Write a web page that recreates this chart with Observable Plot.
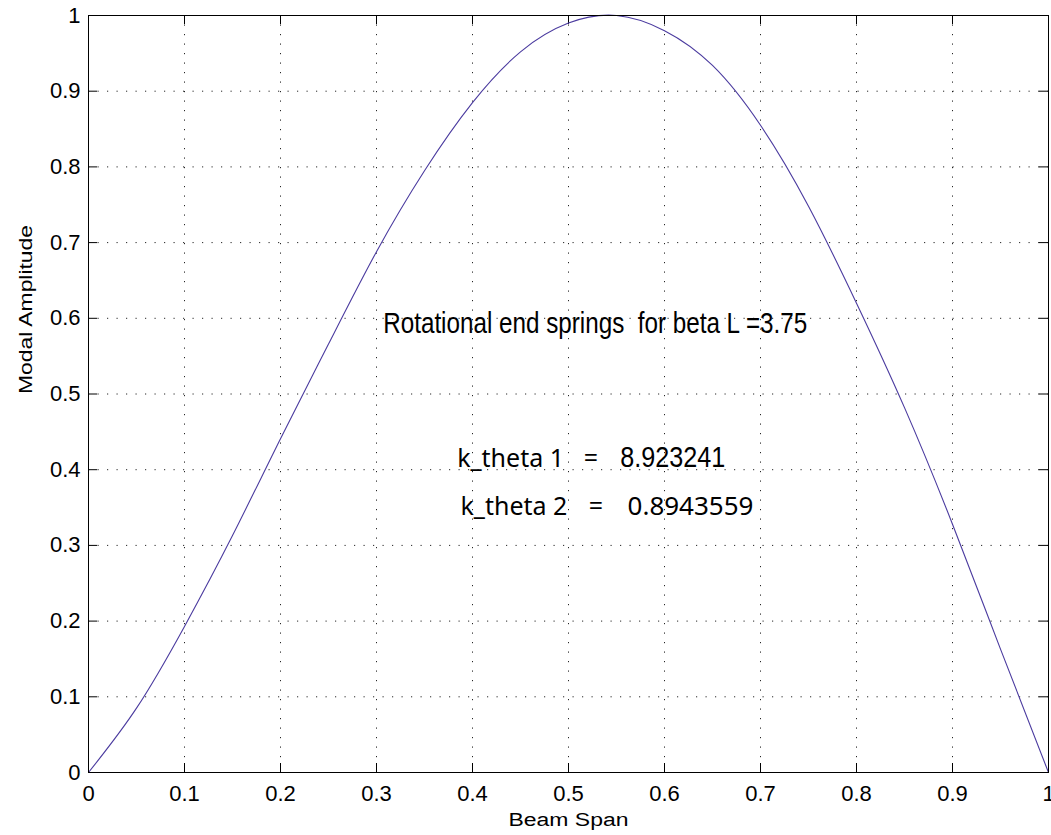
<!DOCTYPE html>
<html>
<head>
<meta charset="utf-8">
<script src="https://cdn.jsdelivr.net/npm/d3@7"></script>
<script src="https://cdn.jsdelivr.net/npm/@observablehq/plot@0.6"></script>
<style>
  html, body { margin: 0; padding: 0; background: #fff; }
  svg text { white-space: pre; }
</style>
</head>
<body>
<div id="chart"></div>
<script>
// Beam span positions and modal amplitude values
const beamSpan = [0, 0.05, 0.1, 0.15, 0.2, 0.25, 0.3, 0.35, 0.4, 0.45, 0.5, 0.55, 0.6, 0.65, 0.7, 0.75, 0.8, 0.85, 0.9, 0.95, 1];
const modalAmplitude = [0, 0.085, 0.193, 0.313, 0.441, 0.566, 0.688, 0.795, 0.885, 0.952, 0.99, 1.0, 0.98, 0.934, 0.855, 0.748, 0.62, 0.482, 0.328, 0.163, 0];

const xTicks = [0, 0.1, 0.2, 0.3, 0.4, 0.5, 0.6, 0.7, 0.8, 0.9, 1];
const yTicks = [0, 0.1, 0.2, 0.3, 0.4, 0.5, 0.6, 0.7, 0.8, 0.9, 1];

const xLabel = "Beam Span";
const yLabel = "Modal Amplitude";

// Annotations (text, anchor in data coordinates)
const titleText = ["Rotational end springs  for beta L =3.75"];
const titleX = [0.307];
const titleY = [0.58];

const kNames = ["k_theta 1", "k_theta 2"];
const kNameX = [0.384, 0.3875];
const kEqX = [0.516, 0.521];
const kValues = ["8.923241", "0.8943559"];
const kValueX = [0.554, 0.5615];
const kY = [0.403, 0.3395];

const curve = beamSpan.map((x, i) => ({x, y: modalAmplitude[i]}));
const title = titleText.map((t, i) => ({t, x: titleX[i], y: titleY[i]}));
const kRows = kNames.map((n, i) => ({n, v: kValues[i], nx: kNameX[i], ex: kEqX[i], vx: kValueX[i], y: kY[i]}));

const W = 1051, H = 835;
const mL = 88, mR = 3, mT = 15, mB = 63;
const fw = W - mL - mR, fh = H - mT - mB;
const tickLen = 9;
const sans = "'Liberation Sans', Arial, Helvetica, sans-serif";
const noto = "'Noto Sans', 'Open Sans', sans-serif";

// rendered widths of the stretched/condensed texts (styling)
const textWidths = new Map([
  [xLabel, 120],
  [yLabel, 169],
  [titleText[0], 424],
  [kValues[0], 105]
]);

const plot = Plot.plot({
  width: W,
  height: H,
  marginLeft: mL,
  marginRight: mR,
  marginTop: mT,
  marginBottom: mB,
  style: {fontFamily: sans, background: "#fff", color: "#000"},
  x: {domain: [0, 1], axis: null},
  y: {domain: [0, 1], axis: null},
  marks: [
    // dotted grid
    Plot.gridX(xTicks, {stroke: "#000", strokeOpacity: 0.85, strokeDasharray: "1.2,8.3", strokeWidth: 1}),
    Plot.gridY(yTicks, {stroke: "#000", strokeOpacity: 0.85, strokeDasharray: "1.2,8.3", strokeWidth: 1}),
    // inward ticks on all four sides
    Plot.tickX(xTicks, {x: d => d, insetTop: fh - tickLen, stroke: "#000"}),
    Plot.tickX(xTicks, {x: d => d, insetBottom: fh - tickLen, stroke: "#000"}),
    Plot.tickY(yTicks, {y: d => d, insetRight: fw - tickLen, stroke: "#000"}),
    Plot.tickY(yTicks, {y: d => d, insetLeft: fw - tickLen, stroke: "#000"}),
    // tick labels
    Plot.text(xTicks, {x: d => d, frameAnchor: "bottom", dy: 13, lineAnchor: "top", text: d => String(d), fontSize: 22, fill: "#000"}),
    Plot.text(yTicks, {y: d => d, frameAnchor: "left", dx: -8, textAnchor: "end", lineAnchor: "middle", text: d => String(d), fontSize: 22, fill: "#000"}),
    // the mode shape
    Plot.line(curve, {x: "x", y: "y", stroke: "#4b3b9f", strokeWidth: 1.1, curve: "natural"}),
    // frame
    Plot.frame({stroke: "#000", strokeWidth: 1}),
    // axis labels
    Plot.text([xLabel], {frameAnchor: "bottom", dy: 53, lineAnchor: "bottom", text: d => d, fontSize: 18, fill: "#000"}),
    Plot.text([yLabel], {frameAnchor: "left", dx: -62, rotate: -90, text: d => d, fontSize: 18, fill: "#000"}),
    // annotations
    Plot.text(title, {x: "x", y: "y", text: "t", textAnchor: "start", lineAnchor: "bottom", fontSize: 30, fontFamily: sans, fill: "#000"}),
    Plot.text(kRows, {x: "nx", y: "y", text: "n", textAnchor: "start", lineAnchor: "bottom", fontSize: 25, fontFamily: noto, fill: "#000"}),
    Plot.text(kRows, {x: "ex", y: "y", text: () => "=", textAnchor: "start", lineAnchor: "bottom", fontSize: 25, fontFamily: noto, fill: "#000"}),
    Plot.text(kRows.slice(0, 1), {x: "vx", y: "y", text: "v", textAnchor: "start", lineAnchor: "bottom", fontSize: 29, fontFamily: sans, fill: "#000"}),
    Plot.text(kRows.slice(1), {x: "vx", y: "y", text: "v", textAnchor: "start", lineAnchor: "bottom", fontSize: 26, fontFamily: noto, fill: "#000"})
  ]
});

// condense / stretch certain texts to the widths they have in the reference
d3.select(plot).selectAll("text").each(function () {
  const w = textWidths.get(this.textContent);
  if (w) d3.select(this).attr("textLength", w).attr("lengthAdjust", "spacingAndGlyphs");
});

document.getElementById("chart").appendChild(plot);
</script>
</body>
</html>
